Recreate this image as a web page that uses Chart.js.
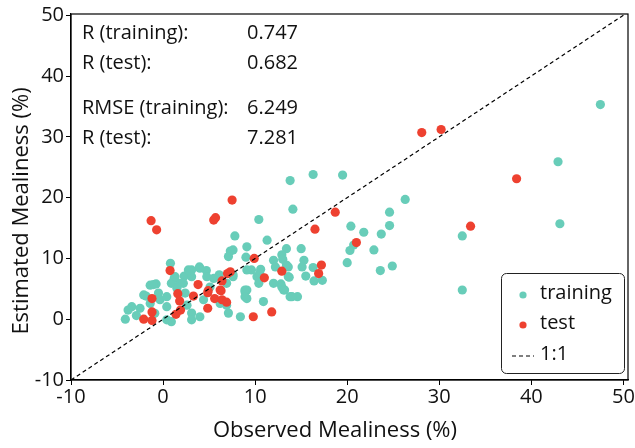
<!DOCTYPE html>
<html><head><meta charset="utf-8">
<script src="https://cdn.jsdelivr.net/npm/chart.js@4.4.0/dist/chart.umd.min.js"></script>
<style>html,body{margin:0;padding:0;background:#fff;}#wrap{width:635px;height:448px;}</style>
</head><body><div id="wrap"><canvas id="c" width="635" height="448"></canvas></div>
<script>
const xTicks = [-10, 0, 10, 20, 30, 40, 50];
const yTicks = [-10, 0, 10, 20, 30, 40, 50];
const xTitle = 'Observed Mealiness (%)';
const yTitle = 'Estimated Mealiness (%)';
const seriesNames = ['training', 'test', '1:1'];
const statsLabels = ['R (training):', 'R (test):', 'RMSE (training):', 'R (test):'];
const statsValues = ['0.747', '0.682', '6.249', '7.281'];

const trainingX = [47.5,42.9,43.1,26.3,32.5,32.5,
 13.8,16.3,19.5,14.1,24.6,24.6,20.4,21.8,23.7,20.7,20.3,22.9,20.0,23.6,24.9,
 13.4,15.0,12.9,13.0,15.3,13.6,15.1,16.3,13.7,15.5,16.4,17.3,12.8,13.2,13.8,14.6,
 10.4,7.8,11.3,9.1,7.3,7.1,9.0,12.0,12.2,
 0.8,1.2,3.1,3.95,4.7,2.3,3.1,5.5,6.1,1.85,7.6,9.6,10.6,10.2,-1.4,-0.76,-1.85,12.0,12.9,9.1,10.4,
 -2.1,-3.4,-4.1,-3.8,-2.9,-2.5,-1.4,-0.9,-0.33,-0.5,0.4,0.4,0.9,0.4,0.9,1.3,1.5,2.2,2.4,2.6,3.1,3.1,4.0,2.75,4.0,4.75,5.1,4.4,6.2,7.1,6.9,8.4,8.9,9.1,10.9,13.1,9.1,7.6,6.9,7.6,
 -1.05,13.4,13.6,8.9,8.9,10.5,14.0];
const trainingY = [35.3,25.9,15.7,19.7,13.7,4.8,
 22.8,23.8,23.7,18.1,17.6,15.4,15.3,14.3,14.0,12.2,11.3,11.4,9.3,8.0,8.75,
 11.6,11.6,10.6,9.85,9.7,8.6,8.6,8.5,6.9,7.1,6.3,6.4,5.8,4.8,3.7,3.7,
 16.4,13.7,13.0,11.9,11.2,10.3,10.2,9.7,8.6,
 9.2,6.7,8.1,8.6,8.0,7.1,7.0,6.7,7.3,5.9,7.0,8.1,8.2,7.0,5.6,5.8,3.8,5.9,5.3,4.8,5.9,
 4.0,2.06,0.0,1.5,0.6,1.8,2.6,0.96,3.2,4.3,2.06,3.7,-0.4,-0.1,5.9,7.0,5.1,5.9,4.3,2.3,1.0,-0.1,0.4,8.1,8.4,7.0,5.3,3.2,2.6,1.0,2.3,0.4,4.5,3.4,2.9,4.8,8.1,7.3,5.9,11.4,
 5.7,8.9,7.0,4.8,3.7,7.5,3.7];

const testX = [28.1,30.2,38.4,33.4,
 18.7,16.5,21.0,17.2,16.9,12.9,
 -1.3,-0.7,5.5,5.7,7.5,9.9,11.0,0.76,7.3,7.0,
 6.4,3.8,4.9,6.3,1.6,3.3,-1.2,
 -1.2,-2.1,-1.2,1.8,1.9,1.4,5.6,6.4,6.9,4.85,9.8,11.8,4.85,6.2];
const testY = [30.7,31.2,23.1,15.3,
 17.6,14.8,12.6,8.9,7.5,7.9,
 16.2,14.7,16.3,16.7,19.6,10.0,6.8,8.0,7.8,7.5,
 6.3,5.7,4.7,4.7,4.2,3.8,3.4,
 1.2,0.0,-0.2,3.0,1.5,0.8,3.4,3.2,2.8,1.8,0.4,1.2,4.35,4.8];

const lineX = [-10, 50];
const lineY = [-10, 50];

const teal = '#68CDB9';
const red = '#EE4130';
const FONT = '"Open Sans", "Noto Sans", sans-serif';

const toPts = (xs, ys) => xs.map((x, i) => ({x: x, y: ys[i]}));

const overlay = {
  id: 'overlay',
  afterDraw(chart) {
    const ctx = chart.ctx;
    const a = chart.chartArea;
    ctx.save();
    // frame
    ctx.strokeStyle = '#000';
    ctx.lineWidth = 1.2;
    ctx.strokeRect(a.left, a.top, a.right - a.left, a.bottom - a.top);
    // stats
    ctx.fillStyle = '#111';
    ctx.font = '20px ' + FONT;
    ctx.textBaseline = 'middle';
    ctx.textAlign = 'left';
    const rows = [33, 63, 108, 138];
    statsLabels.forEach((t, i) => {
      ctx.fillText(t, 82, rows[i]);
      ctx.fillText(statsValues[i], 247, rows[i]);
    });
    // legend box
    ctx.beginPath();
    ctx.roundRect(501.5, 273.5, 123, 100, 5);
    ctx.fillStyle = '#fff';
    ctx.fill();
    ctx.strokeStyle = '#222';
    ctx.lineWidth = 1;
    ctx.stroke();
    ctx.fillStyle = teal;
    ctx.beginPath(); ctx.arc(523, 295, 3.6, 0, Math.PI * 2); ctx.fill();
    ctx.fillStyle = red;
    ctx.beginPath(); ctx.arc(523, 325, 3.6, 0, Math.PI * 2); ctx.fill();
    ctx.strokeStyle = '#000';
    ctx.lineWidth = 1.2;
    ctx.setLineDash([4, 3]);
    ctx.beginPath(); ctx.moveTo(512, 356); ctx.lineTo(534, 356); ctx.stroke();
    ctx.setLineDash([]);
    ctx.fillStyle = '#111';
    ctx.font = '20px ' + FONT;
    ctx.fillText(seriesNames[0], 540, 293);
    ctx.fillText(seriesNames[1], 540, 323);
    ctx.fillText(seriesNames[2], 540, 354);
    // axis titles
    ctx.font = '22px ' + FONT;
    ctx.textAlign = 'center';
    ctx.fillText(xTitle, 335, 431);
    ctx.translate(22, 211);
    ctx.rotate(-Math.PI / 2);
    ctx.fillText(yTitle, 0, 0);
    ctx.restore();
  }
};

new Chart(document.getElementById('c'), {
  data: {
    datasets: [
      {type: 'line', label: seriesNames[2], data: toPts(lineX, lineY), borderColor: '#000', borderWidth: 1.2,
       borderDash: [4, 3], pointRadius: 0, fill: false, order: 0},
      {type: 'scatter', label: seriesNames[1], data: toPts(testX, testY), backgroundColor: red,
       borderWidth: 0, pointRadius: 4.6, order: 1},
      {type: 'scatter', label: seriesNames[0], data: toPts(trainingX, trainingY), backgroundColor: teal,
       borderWidth: 0, pointRadius: 4.6, order: 2}
    ]
  },
  options: {
    responsive: false,
    devicePixelRatio: 1,
    animation: false,
    layout: {padding: {left: 0, right: 7, top: 14, bottom: 0}},
    plugins: {legend: {display: false}, tooltip: {enabled: false}},
    scales: {
      x: {
        type: 'linear', min: -10, max: 50.5,
        afterBuildTicks: s => { s.ticks = xTicks.map(v => ({value: v})); },
        afterFit: s => { s.height = 68; },
        grid: {display: true, drawOnChartArea: false, drawTicks: true, tickLength: 5, color: '#000', lineWidth: 1},
        border: {display: true, color: '#000', width: 1.2},
        ticks: {color: '#111', font: {family: FONT, size: 20}, padding: 0, maxRotation: 0}
      },
      y: {
        type: 'linear', min: -10, max: 50.2,
        afterBuildTicks: s => { s.ticks = yTicks.map(v => ({value: v})); },
        afterFit: s => { s.width = 71; },
        grid: {display: true, drawOnChartArea: false, drawTicks: true, tickLength: 5, color: '#000', lineWidth: 1},
        border: {display: true, color: '#000', width: 1.2},
        ticks: {color: '#111', font: {family: FONT, size: 20}, padding: 2}
      }
    }
  },
  plugins: [overlay]
});
</script>
</body></html>
